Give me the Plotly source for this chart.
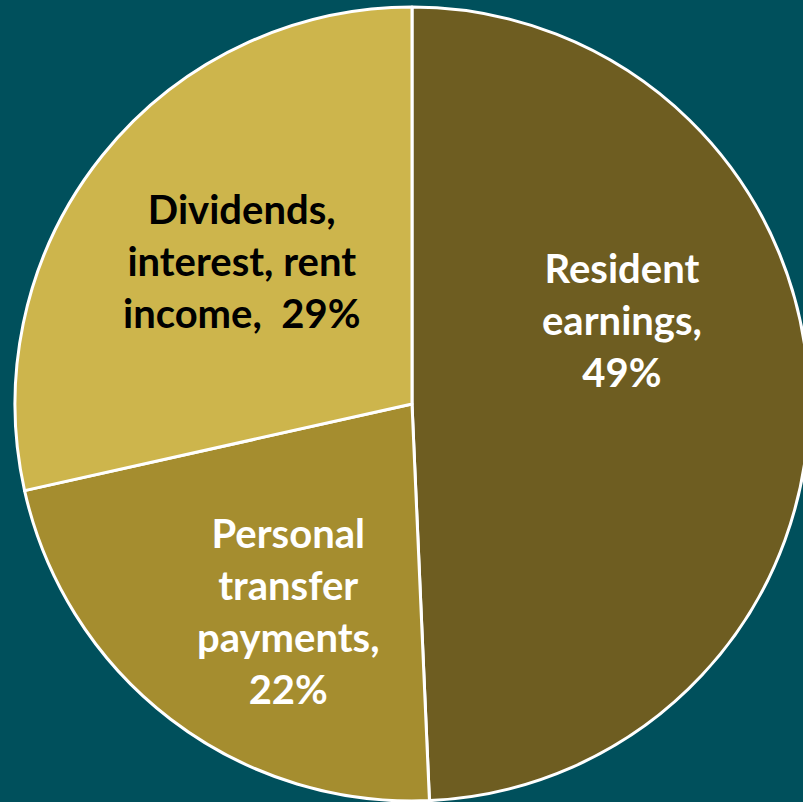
import plotly.graph_objects as go

labels = ["Resident earnings", "Personal transfer payments", "Dividends, interest, rent income"]
values = [49.3, 22.2, 28.5]
label_text = ["Resident<br>earnings,<br>49%", "Personal<br>transfer<br>payments,<br>22%", "Dividends,<br>interest, rent<br>income,\u00a0 29%"]
colors = ["#6E5D21", "#A58D2F", "#CDB54C"]
text_colors = ["#FFFFFF", "#FFFFFF", "#000000"]
# label anchor positions (paper fraction)
label_x = [0.764, 0.345, 0.285]
label_y = [0.606, 0.239, 0.680]

fig = go.Figure(go.Pie(
    labels=labels, values=values,
    textinfo="none",
    sort=False, direction="clockwise", rotation=0,
    marker=dict(colors=colors, line=dict(color="#FFFFFF", width=3)),
    hoverinfo="label+percent", showlegend=False,
))
for t, c, x, y in zip(label_text, text_colors, label_x, label_y):
    fig.add_annotation(text=t, x=x, y=y, xref="paper", yref="paper",
                       xanchor="center", yanchor="middle", showarrow=False,
                       align="center",
                       font=dict(family="Lato", size=40, color=c, weight="bold"))
fig.update_layout(
    width=810, height=802, autosize=False,
    margin=dict(l=15, r=1, t=7, b=1),
    paper_bgcolor="#00505C", plot_bgcolor="#00505C",
)
fig.write_html("out.html", config={"displayModeBar": False},
               post_script="document.body.style.margin='0';document.body.style.overflow='hidden';document.documentElement.style.overflow='hidden';document.body.style.background='#00505C';")
